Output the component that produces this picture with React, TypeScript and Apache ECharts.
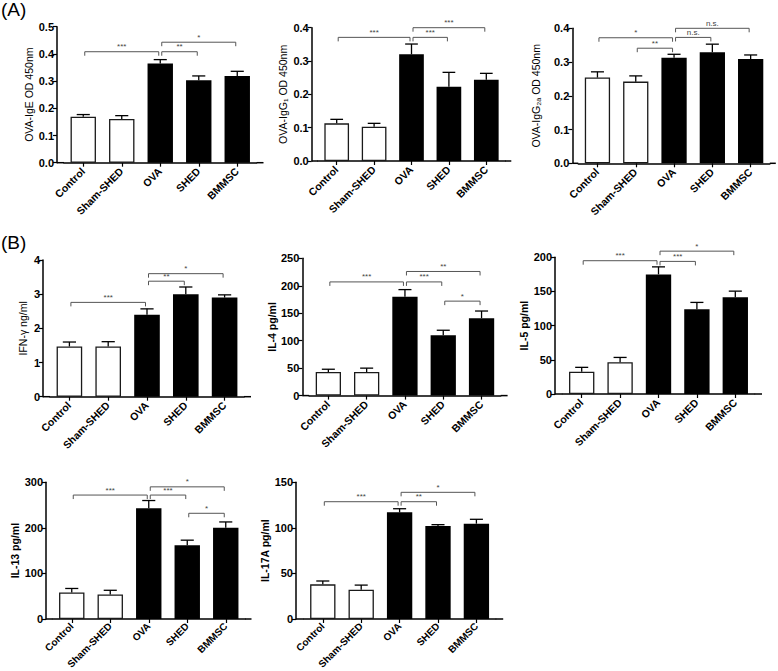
import React, { useEffect, useRef } from "react";
import * as echarts from "echarts";

const groups = ["Control", "Sham-SHED", "OVA", "SHED", "BMMSC"];
const barFills = ["#ffffff", "#ffffff", "#000000", "#000000", "#000000"];

// (A) OVA-specific antibodies
const igeMean = [0.169, 0.161, 0.365, 0.303, 0.319];
const igeSem = [0.008, 0.012, 0.014, 0.016, 0.017];
const igeSig: [number, number, number, string][] = [[0, 2, 0.408, "***"], [2, 3, 0.408, "**"], [2, 4, 0.443, "*"]];

const igg1Mean = [0.113, 0.103, 0.32, 0.223, 0.244];
const igg1Sem = [0.012, 0.01, 0.031, 0.043, 0.019];
const igg1Sig: [number, number, number, string][] = [[0, 2, 0.371, "***"], [2, 3, 0.371, "***"], [2, 4, 0.4, "***"]];

const igg2aMean = [0.254, 0.242, 0.313, 0.329, 0.309];
const igg2aSem = [0.017, 0.017, 0.01, 0.024, 0.012];
const igg2aSig: [number, number, number, string][] = [[0, 2, 0.372, "*"], [1, 2, 0.341, "**"], [2, 3, 0.373, "n.s."], [2, 4, 0.4, "n.s."]];

// (B) cytokines
const ifnMean = [1.47, 1.47, 2.4, 3.0, 2.9];
const ifnSem = [0.13, 0.14, 0.17, 0.21, 0.08];
const ifnSig: [number, number, number, string][] = [[0, 2, 2.76, "***"], [2, 3, 3.38, "**"], [2, 4, 3.6, "*"]];

const il4Mean = [43, 43, 180, 110, 141];
const il4Sem = [5, 7, 13, 9, 13];
const il4Sig: [number, number, number, string][] = [[0, 2, 207, "***"], [2, 3, 207, "***"], [2, 4, 226, "**"], [3, 4, 172, "*"]];

const il5Mean = [32.5, 46.5, 175, 124, 141.5];
const il5Sem = [6.5, 7, 11, 10, 9];
const il5Sig: [number, number, number, string][] = [[0, 2, 195, "***"], [2, 3, 194, "***"], [2, 4, 209, "*"]];

const il13Mean = [58, 54, 243, 162, 200];
const il13Sem = [9, 9, 17, 11, 13];
const il13Sig: [number, number, number, string][] = [[0, 2, 272, "***"], [2, 3, 272, "***"], [2, 4, 290, "*"], [3, 4, 232, "*"]];

const il17Mean = [38, 32.2, 117, 102, 104.6];
const il17Sem = [3.7, 5, 4, 1.5, 4.8];
const il17Sig: [number, number, number, string][] = [[0, 2, 128.7, "***"], [2, 3, 128.7, "**"], [2, 4, 139, "*"]];

const FONT = "'Liberation Sans', Arial, Helvetica, sans-serif";

type Panel = {
  title: string;
  mean: number[];
  sem: number[];
  sig: [number, number, number, string][];
  max: number;
  interval: number;
  decimals: number;
  axisX: number;
  left: number;
  width: number;
  top: number;
  bottom: number;
  nameGap: number;
  titleBold: boolean;
  labelSize: number;
  labelMargin: number;
};

const panels: Panel[] = [
  { title: "OVA-IgE OD 450nm", mean: igeMean, sem: igeSem, sig: igeSig, max: 0.5, interval: 0.1, decimals: 1, axisX: 57, left: 64, width: 192.5, top: 26.7, bottom: 162.7, nameGap: 19, titleBold: false, labelSize: 10.5, labelMargin: 7 },
  { title: "OVA-IgG\u2081 OD 450nm", mean: igg1Mean, sem: igg1Sem, sig: igg1Sig, max: 0.4, interval: 0.1, decimals: 1, axisX: 311.7, left: 318, width: 187, top: 27.7, bottom: 161, nameGap: 23, titleBold: false, labelSize: 10.5, labelMargin: 7 },
  { title: "OVA-IgG\u2082\u2090 OD 450nm", mean: igg2aMean, sem: igg2aSem, sig: igg2aSig, max: 0.4, interval: 0.1, decimals: 1, axisX: 572.3, left: 578.3, width: 191.5, top: 28.3, bottom: 163.3, nameGap: 31, titleBold: false, labelSize: 10.5, labelMargin: 7 },
  { title: "IFN-\u03b3 ng/ml", mean: ifnMean, sem: ifnSem, sig: ifnSig, max: 4, interval: 1, decimals: 0, axisX: 43, left: 50, width: 194, top: 260, bottom: 396.7, nameGap: 15, titleBold: false, labelSize: 10.5, labelMargin: 7 },
  { title: "IL-4 pg/ml", mean: il4Mean, sem: il4Sem, sig: il4Sig, max: 250, interval: 50, decimals: 0, axisX: 302.3, left: 309.2, width: 191.5, top: 258.3, bottom: 395.6, nameGap: 24, titleBold: true, labelSize: 10.5, labelMargin: 7 },
  { title: "IL-5 pg/ml", mean: il5Mean, sem: il5Sem, sig: il5Sig, max: 200, interval: 50, decimals: 0, axisX: 555, left: 562.5, width: 192, top: 257.3, bottom: 394, nameGap: 22, titleBold: true, labelSize: 10.5, labelMargin: 7 },
  { title: "IL-13 pg/ml", mean: il13Mean, sem: il13Sem, sig: il13Sig, max: 300, interval: 100, decimals: 0, axisX: 46, left: 52.5, width: 192.5, top: 482.3, bottom: 619, nameGap: 24, titleBold: true, labelSize: 10, labelMargin: 5.5 },
  { title: "IL-17A pg/ml", mean: il17Mean, sem: il17Sem, sig: il17Sig, max: 150, interval: 50, decimals: 0, axisX: 296, left: 303.6, width: 192, top: 482.3, bottom: 619, nameGap: 19, titleBold: true, labelSize: 10, labelMargin: 5.5 },
];

function buildOption() {
  const grid: any[] = [];
  const xAxis: any[] = [];
  const yAxis: any[] = [];
  const series: any[] = [];
  const graphic: any[] = [];

  panels.forEach((p, i) => {
    const gap = p.left - p.axisX;
    grid.push({
      left: p.left,
      top: p.top,
      width: p.width,
      height: p.bottom - p.top,
      containLabel: false,
      outerBoundsMode: "none",
    });
    xAxis.push({
      type: "category",
      gridIndex: i,
      data: groups,
      boundaryGap: true,
      axisLine: { show: true, lineStyle: { color: "#000", width: 1.5 } },
      axisTick: { show: true, alignWithLabel: true, length: 4, lineStyle: { color: "#000", width: 1.2 } },
      axisLabel: {
        rotate: 45,
        interval: 0,
        margin: p.labelMargin,
        color: "#000",
        fontSize: p.labelSize,
        lineHeight: Math.round(p.labelSize * 1.1),
        fontWeight: "bold",
        fontFamily: FONT,
      },
      splitLine: { show: false },
    });
    yAxis.push({
      type: "value",
      gridIndex: i,
      min: 0,
      max: p.max,
      interval: p.interval,
      offset: gap,
      name: p.title,
      nameLocation: "middle",
      nameGap: p.nameGap,
      nameTextStyle: { color: "#000", fontSize: 10.5, fontWeight: p.titleBold ? "bold" : "normal", fontFamily: FONT },
      axisLine: { show: true, lineStyle: { color: "#000", width: 1.5 } },
      axisTick: { show: true, length: 4, lineStyle: { color: "#000", width: 1.2 } },
      axisLabel: {
        margin: 3,
        color: "#000",
        fontSize: 11,
        fontWeight: "bold",
        fontFamily: FONT,
        formatter: (v: number) => v.toFixed(p.decimals),
      },
      splitLine: { show: false },
    });
    series.push({
      type: "bar",
      xAxisIndex: i,
      yAxisIndex: i,
      barWidth: "66%",
      data: p.mean.map((v, k) => ({
        value: v,
        itemStyle: { color: barFills[k], borderColor: "#1a1a1a", borderWidth: k < 2 ? 1.3 : 0 },
      })),
      z: 2,
    });
    series.push({
      type: "custom",
      xAxisIndex: i,
      yAxisIndex: i,
      clip: false,
      z: 3,
      encode: { x: 0, y: [1, 2] },
      data: p.mean.map((v, k) => [k, v, v + p.sem[k]]),
      renderItem: (params: any, api: any) => {
        const x = api.value(0);
        const p0 = api.coord([x, api.value(1)]);
        const p1 = api.coord([x, api.value(2)]);
        const hw = api.size([1, 0])[0] * 0.17;
        return {
          type: "group",
          children: [
            { type: "line", shape: { x1: p0[0], y1: p0[1], x2: p1[0], y2: p1[1] }, style: { stroke: "#000", lineWidth: 1.3 } },
            { type: "line", shape: { x1: p1[0] - hw, y1: p1[1], x2: p1[0] + hw, y2: p1[1] }, style: { stroke: "#000", lineWidth: 1.3 } },
          ],
        };
      },
    });
    series.push({
      type: "custom",
      xAxisIndex: i,
      yAxisIndex: i,
      clip: false,
      z: 4,
      encode: { x: [0, 1], y: 2 },
      data: p.sig.map((s) => [s[0], s[1], s[2]]),
      renderItem: (params: any, api: any) => {
        const s = p.sig[params.dataIndex];
        const a = api.coord([api.value(0), api.value(2)]);
        const c = api.coord([api.value(1), api.value(2)]);
        const t = 4;
        const x1 = a[0] + 1.5;
        const x2 = c[0] - 1.5;
        const y = a[1];
        return {
          type: "group",
          children: [
            {
              type: "polyline",
              shape: { points: [[x1, y + t], [x1, y], [x2, y], [x2, y + t]] },
              style: { stroke: "#555", lineWidth: 1, fill: null },
            },
            {
              type: "text",
              x: (x1 + x2) / 2,
              y: y - 1,
              style: {
                text: s[3],
                fill: "#444",
                font: `8px ${FONT}`,
                align: "center",
                verticalAlign: "bottom",
                textAlign: "center",
                textVerticalAlign: "bottom",
              },
            },
          ],
        };
      },
    });
    graphic.push({
      type: "line",
      shape: { x1: p.axisX, y1: p.bottom, x2: p.left, y2: p.bottom },
      style: { stroke: "#000", lineWidth: 1.5 },
    });
    graphic.push({
      type: "line",
      shape: { x1: p.left + p.width, y1: p.bottom, x2: p.left + p.width + gap, y2: p.bottom },
      style: { stroke: "#000", lineWidth: 1.5 },
    });
  });

  graphic.push({ type: "text", left: 1, top: 0, style: { text: "(A)", fill: "#000", font: `19px ${FONT}` } });
  graphic.push({ type: "text", left: 1, top: 233, style: { text: "(B)", fill: "#000", font: `19px ${FONT}` } });

  return {
    animation: false,
    backgroundColor: "#ffffff",
    grid,
    xAxis,
    yAxis,
    series,
    graphic,
  };
}

export default function App() {
  const ref = useRef<HTMLDivElement>(null);
  useEffect(() => {
    if (!ref.current) return;
    const chart = echarts.init(ref.current, undefined, { renderer: "svg" });
    chart.setOption(buildOption() as any);
    return () => chart.dispose();
  }, []);
  return (
    <div
      ref={ref}
      style={{ position: "absolute", left: 0, top: 0, width: 778, height: 671, background: "#fff" }}
    />
  );
}
